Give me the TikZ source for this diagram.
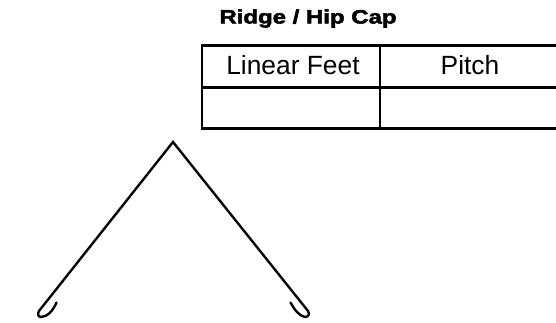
\documentclass[tikz,border=0pt]{standalone}
\usepackage{fontspec}
\setmainfont{Liberation Sans}
\newfontfamily\capfont[FakeStretch=1.24,FakeBold=2.6]{Liberation Sans Bold}
\tikzset{
    gridline/.style={line width=1.7pt},
    capline/.style={line width=1.35pt, line join=miter, line cap=round},
    celltext/.style={anchor=base, inner sep=0pt, font=\fontsize{15}{16}\selectfont},
    titletext/.style={anchor=base, inner sep=0pt, font=\capfont\fontsize{11}{12}\selectfont}
}
\begin{document}
\begin{tikzpicture}[x=0.02cm,y=-0.02cm]
        \useasboundingbox (0,0) rectangle (556,323);

        \node[titletext] (title) at (308,23.5) {Ridge / Hip Cap};

        \begin{scope}
                \clip (0,0) rectangle (556,323);
                \draw[gridline] (556,46) -- (202,46) -- (202,129) -- (556,129);
                \draw[gridline] (202,87.5) -- (556,87.5);
                \draw[gridline] (380,46) -- (380,129);
        \end{scope}

        \node[celltext] (feet) at (293,75) {Linear Feet};
        \node[celltext] (pitch) at (470,75) {Pitch};

        \draw[capline] (56.5,302.5) .. controls (53,311) and (47,317) .. (41,317) .. controls (38,317) and (37.5,314) .. (39,311) -- (173,142) -- (308,311) .. controls (310,314) and (308.5,317) .. (305,317) .. controls (299,316) and (294,309) .. (290.5,302.5);
\end{tikzpicture}
\end{document}
